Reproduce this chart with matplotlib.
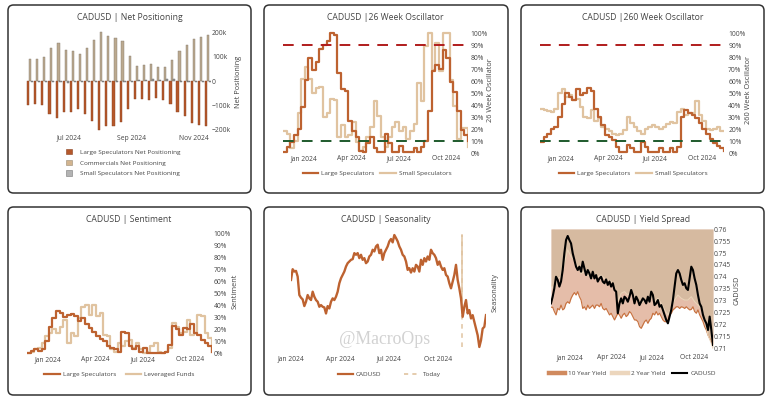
import numpy as np
import pandas as pd
import matplotlib
matplotlib.use('Agg')
import matplotlib.pyplot as plt
import matplotlib.dates as mdates
from matplotlib.patches import FancyBboxPatch, Patch
from matplotlib.lines import Line2D
from matplotlib.ticker import FuncFormatter, FixedLocator

plt.rcParams['font.family'] = ['Open Sans', 'DejaVu Sans']

# ---------------- DATA ----------------
# Net positioning (thousands of contracts), weekly
net_start = '2024-05-24'
large_spec_net = [-98, -94, -99, -137, -155, -127, -127, -116, -138, -166, -203, -187, -186,
                  -171, -116, -74, -76, -80, -71, -77, -96, -127, -147, -175, -183, -187]
commercials_net = [91, 91, 99, 138, 159, 127, 126, 113, 137, 169, 204, 186, 180,
                   168, 106, 62, 67, 69, 59, 60, 87, 123, 150, 175, 182, 190]
small_spec_net = [-4, -3, -3, -5, -6, -8, -4, -3, -5, -5, -4, -3, -4,
                  -5, -4, 5, 6, 7, 6, 8, 9, -3, -4, -5, -4, -5]

# Oscillators (%), weekly
osc_start = '2023-11-21'
osc26_large = [1, 5, 9, 15, 20, 38, 61, 79, 69, 76, 87, 90, 93, 100, 98, 67, 53, 52, 27, 18,
               13, 2, 1, 8, 13, 4, 1, 1, 16, 8, 1, 1, 6, 1, 1, 1, 4, 1, 5, 10,
               35, 68, 73, 70, 86, 79, 59, 51, 35, 19, 15, 10]
osc26_small = [18, 16, 4, 10, 33, 62, 72, 62, 50, 54, 55, 30, 33, 45, 44, 13, 23, 13, 15, 26,
               9, 2, 5, 13, 22, 43, 31, 13, 5, 13, 22, 26, 18, 22, 12, 18, 24, 58, 43, 89,
               100, 69, 92, 68, 100, 100, 61, 39, 12, 21, 21, 5]
osc260_large = [9, 13, 16, 20, 22, 30, 41, 50, 47, 44, 53, 48, 50, 54, 52, 37, 30, 23, 15, 13,
                11, 5, 1, 1, 7, 4, 1, 1, 9, 5, 1, 1, 1, 4, 1, 1, 4, 1, 5, 30,
                36, 33, 32, 29, 25, 20, 16, 12, 8, 6, 4, 2]
osc260_small = [37, 36, 35, 34, 37, 50, 53, 47, 48, 44, 45, 38, 30, 29, 36, 27, 29, 22, 20, 18,
                16, 15, 16, 19, 30, 25, 22, 18, 16, 20, 22, 23, 22, 20, 22, 24, 26, 25, 34, 37,
                32, 33, 33, 43, 32, 27, 20, 19, 20, 22, 18, 18]
sent_large = [0, 2, 3, 2, 3, 10, 22, 29, 35, 34, 30, 32, 33, 31, 27, 29, 24, 21, 18, 14,
              12, 10, 6, 4, 3, 1, 18, 17, 6, 3, 6, 1, 4, 0, 0, 0, 0, 0, 1, 7,
              23, 20, 15, 21, 20, 24, 17, 15, 11, 8, 6, 1]
sent_levfunds = [0, 1, 3, 4, 8, 14, 17, 20, 17, 22, 28, 8, 17, 14, 29, 39, 40, 32, 40, 31,
                 34, 15, 14, 3, 1, 8, 6, 10, 11, 4, 8, 3, 0, 1, 6, 8, 1, 0, 1, 4,
                 25, 22, 17, 18, 28, 15, 17, 32, 31, 17, 13, 1]
pct_ticks = [0, 10, 20, 30, 40, 50, 60, 70, 80, 90, 100]

# Seasonality (average path through the year), Jan 1 -> Dec 29
season_values = [0.60, 0.92, 0.85, 0.87, 0.70, 0.15, 0.07, 0.02, -0.18, -0.05,
                 0.15, 0.05, 0.00, 0.25, 0.10, 0.00, -0.05, -0.20, -0.15, -0.20,
                 -0.22, -0.40, -0.18, -0.25, -0.05, 0.05, 0.00, 0.10, 0.25, 0.50,
                 0.65, 0.75, 0.85, 1.00, 1.10, 1.15, 1.20, 1.22, 1.40, 1.35,
                 1.40, 1.25, 1.35, 1.20, 1.25, 1.10, 1.15, 1.30, 1.35, 1.50,
                 1.45, 1.60, 1.65, 1.40, 1.50, 1.20, 1.40, 1.50, 1.60, 1.75,
                 1.82, 1.72, 1.94, 1.85, 1.75, 1.60, 1.50, 1.35, 1.30, 1.15,
                 0.90, 0.95, 0.82, 0.95, 0.85, 1.05, 1.00, 0.85, 1.20, 1.05,
                 1.25, 1.15, 1.30, 1.20, 1.50, 1.40, 1.35, 1.25, 1.05, 1.15,
                 1.00, 0.90, 0.95, 0.75, 0.70, 0.50, 0.35, 0.55, 0.75, 1.05,
                 0.60, 0.35, 0.05, -0.50, -0.20, 0.00, -0.40, -0.30, -0.55, -0.45,
                 -0.65, -0.85, -1.05, -1.40, -1.20, -0.85, -0.80, -0.45]
today = '2024-11-15'

# Yield spread panel (expressed on the CADUSD scale)
cadusd = [0.7290, 0.7318, 0.7353, 0.7401, 0.7388, 0.7360, 0.7381, 0.7429, 0.7499, 0.7554,
          0.7571, 0.7554, 0.7540, 0.7499, 0.7471, 0.7443, 0.7429, 0.7443, 0.7422, 0.7464,
          0.7436, 0.7408, 0.7429, 0.7415, 0.7394, 0.7422, 0.7394, 0.7408, 0.7381, 0.7394,
          0.7401, 0.7381, 0.7374, 0.7390, 0.7367, 0.7381, 0.7360, 0.7374, 0.7346, 0.7339,
          0.7249, 0.7290, 0.7311, 0.7290, 0.7318, 0.7311, 0.7297, 0.7318, 0.7346, 0.7325,
          0.7290, 0.7318, 0.7304, 0.7283, 0.7297, 0.7311, 0.7304, 0.7290, 0.7318, 0.7297,
          0.7339, 0.7325, 0.7283, 0.7290, 0.7304, 0.7276, 0.7283, 0.7263, 0.7242, 0.7221,
          0.7207, 0.7235, 0.7263, 0.7304, 0.7360, 0.7415, 0.7429, 0.7415, 0.7388, 0.7367,
          0.7374, 0.7353, 0.7346, 0.7394, 0.7443, 0.7429, 0.7394, 0.7367, 0.7325, 0.7290,
          0.7276, 0.7242, 0.7221, 0.7207, 0.7179, 0.7235, 0.7179, 0.7117]
ten_year = [0.7274, 0.7274, 0.7256, 0.7242, 0.7269, 0.7263, 0.7283, 0.7263, 0.7269, 0.7290,
            0.7297, 0.7290, 0.7311, 0.7325, 0.7335, 0.7325, 0.7339, 0.7318, 0.7304, 0.7269,
            0.7276, 0.7263, 0.7283, 0.7269, 0.7276, 0.7283, 0.7269, 0.7283, 0.7283, 0.7276,
            0.7290, 0.7269, 0.7263, 0.7269, 0.7256, 0.7242, 0.7249, 0.7235, 0.7221, 0.7235,
            0.7249, 0.7242, 0.7228, 0.7242, 0.7249, 0.7235, 0.7242, 0.7256, 0.7249, 0.7235,
            0.7221, 0.7221, 0.7214, 0.7193, 0.7186, 0.7200, 0.7214, 0.7221, 0.7207, 0.7221,
            0.7228, 0.7249, 0.7242, 0.7256, 0.7242, 0.7249, 0.7235, 0.7221, 0.7214, 0.7214,
            0.7221, 0.7242, 0.7249, 0.7263, 0.7269, 0.7276, 0.7276, 0.7269, 0.7276, 0.7274,
            0.7269, 0.7276, 0.7269, 0.7263, 0.7265, 0.7276, 0.7256, 0.7249, 0.7263, 0.7242,
            0.7228, 0.7214, 0.7193, 0.7179, 0.7158, 0.7144, 0.7131, 0.7117]
two_year = [0.7367, 0.7346, 0.7394, 0.7401, 0.7457, 0.7513, 0.7485, 0.7471, 0.7443, 0.7415,
            0.7422, 0.7408, 0.7401, 0.7394, 0.7401, 0.7408, 0.7394, 0.7388, 0.7381, 0.7360,
            0.7297, 0.7332, 0.7339, 0.7325, 0.7339, 0.7318, 0.7297, 0.7290, 0.7304, 0.7297,
            0.7318, 0.7297, 0.7311, 0.7290, 0.7263, 0.7242, 0.7269, 0.7304, 0.7325, 0.7311,
            0.7304, 0.7304, 0.7318, 0.7297, 0.7283, 0.7269, 0.7221, 0.7158, 0.7124, 0.7103]
yield_ticks = [0.71, 0.715, 0.72, 0.725, 0.73, 0.735, 0.74, 0.745, 0.75, 0.755, 0.76]

# ---------------- STYLE ----------------
BROWN = '#bd6230'
TAN = '#e0c3a0'
TXT = '#444444'
TICK_FS = 4.9
TITLE_FS = 6.2
LEG_FS = 4.6
AXT_FS = 5.3

W, H = 767, 400
fig = plt.figure(figsize=(W / 100, H / 100), dpi=100)
fig.patch.set_facecolor('white')


def ax_px(x0, x1, y0, y1):
    return fig.add_axes([x0 / W, 1 - y1 / H, (x1 - x0) / W, (y1 - y0) / H])


def box(x0, y0, x1, y1):
    p = FancyBboxPatch((x0 / 100, (H - y1) / 100), (x1 - x0) / 100, (y1 - y0) / 100,
                       boxstyle='round,pad=0,rounding_size=0.055',
                       transform=fig.dpi_scale_trans, fill=False, ec='#333333', lw=1.1)
    fig.add_artist(p)


def ftext(x, y, s, **kw):
    kw.setdefault('color', TXT)
    fig.text(x / W, 1 - y / H, s, ha='center', va='center', **kw)


def base(ax, xpad, ypad):
    for sp in ax.spines.values():
        sp.set_visible(False)
    ax.yaxis.tick_right()
    ax.tick_params(axis='both', length=0, labelsize=TICK_FS, labelcolor=TXT)
    ax.tick_params(axis='x', pad=xpad)
    ax.tick_params(axis='y', pad=ypad)
    ax.set_facecolor('none')


def flegend(handles, labels, cx, cy, ncol, **kw):
    fig.legend(handles, labels, loc='center', bbox_to_anchor=(cx / W, 1 - cy / H),
               ncol=ncol, frameon=False, fontsize=LEG_FS, labelcolor=TXT,
               borderpad=0, borderaxespad=0, **kw)


# panel boxes
for (x0, y0, x1, y1) in [(8, 5, 251, 193), (264, 5, 508, 193), (521, 5, 764, 193),
                         (8, 207, 251, 395), (264, 207, 508, 395), (521, 207, 764, 395)]:
    box(x0, y0, x1, y1)

# ---------------- Panel 1: Net positioning ----------------
net_dates = pd.date_range(net_start, periods=len(large_spec_net), freq='7D')
ax1 = ax_px(26, 211, 31, 131)
base(ax1, 2.6, 0.8)
off = pd.Timedelta(days=1.9)
bw = 2.1
ax1.bar(net_dates - off, np.array(large_spec_net) * 1000, width=bw, color='#b5582b',
        edgecolor='#8a4120', lw=0.3)
ax1.bar(net_dates, np.array(commercials_net) * 1000, width=bw, color='#bba98f',
        edgecolor='#857b6e', lw=0.3)
ax1.bar(net_dates + off, np.array(small_spec_net) * 1000, width=bw, color='#a0a0a0',
        edgecolor='#5f5f5f', lw=0.3)
ax1.set_ylim(-208000, 208000)
ax1.set_xlim(pd.Timestamp('2024-05-20'), pd.Timestamp('2024-11-18'))
ax1.yaxis.set_major_locator(FixedLocator([-200000, -100000, 0, 100000, 200000]))
ax1.yaxis.set_major_formatter(FuncFormatter(
    lambda v, p: '0' if v == 0 else ('\u2212' if v < 0 else '') + '%dk' % abs(v / 1000)))
ax1.xaxis.set_major_locator(FixedLocator(mdates.date2num(
    [pd.Timestamp('2024-07-01'), pd.Timestamp('2024-09-01'), pd.Timestamp('2024-11-01')])))
ax1.xaxis.set_major_formatter(mdates.DateFormatter('%b %Y'))
ftext(130, 18, 'CADUSD | Net Positioning', fontsize=TITLE_FS)
ftext(238, 82, 'Net Positioning', fontsize=AXT_FS, rotation=90)
fig.legend([Patch(fc='#b5582b', ec='#8a4120', lw=0.4), Patch(fc='#d2b48f', ec='#9a8a74', lw=0.4),
            Patch(fc='#b3b3b3', ec='#7a7a7a', lw=0.4)],
           ['Large Speculators Net Positioning', 'Commercials Net Positioning',
            'Small Speculators Net Positioning'],
           loc='upper left', bbox_to_anchor=(66 / W, 1 - 149 / H), frameon=False,
           fontsize=LEG_FS, labelcolor=TXT, borderpad=0, borderaxespad=0,
           handlelength=0.9, handleheight=0.9, handletextpad=1.3, labelspacing=0.75)

# ---------------- Oscillator helper ----------------
osc_dates = pd.date_range(osc_start, periods=len(osc26_large), freq='7D')
quarter_ticks = mdates.date2num([pd.Timestamp('2024-01-01'), pd.Timestamp('2024-04-01'),
                                 pd.Timestamp('2024-07-01'), pd.Timestamp('2024-10-01')])


def osc_axes(ax, s_large, s_small, hlines=True, ypad=2.0):
    base(ax, 0.3, ypad)
    ax.step(osc_dates, s_small, where='post', color=TAN, lw=1.6, zorder=2)
    ax.step(osc_dates, s_large, where='post', color=BROWN, lw=1.6, zorder=3)
    if hlines:
        ax.axhline(90, color='#b01c1c', lw=1.4, dashes=(5.5, 4.2), zorder=4)
        ax.axhline(10, color='#1e5a2c', lw=1.4, dashes=(5.5, 4.2), zorder=4)
    ax.set_ylim(-1.5, 101.5)
    ax.set_xlim(osc_dates[0], osc_dates[-1])
    ax.yaxis.set_major_locator(FixedLocator(pct_ticks))
    ax.yaxis.set_major_formatter(FuncFormatter(lambda v, p: '%d%%' % v))
    ax.xaxis.set_major_locator(FixedLocator(quarter_ticks))
    ax.xaxis.set_major_formatter(mdates.DateFormatter('%b %Y'))


# ---------------- Panel 2: 26 week ----------------
ax2 = ax_px(283, 468, 31.2, 154.8)
osc_axes(ax2, osc26_large, osc26_small, ypad=1.8)
ftext(385, 18, 'CADUSD |26 Week Oscillator', fontsize=TITLE_FS)
ftext(491, 90, '26 Week Oscillator', fontsize=AXT_FS, rotation=90)
flegend([Line2D([], [], color=BROWN, lw=1.6), Line2D([], [], color=TAN, lw=1.6)],
        ['Large Speculators', 'Small Speculators'], 377, 173, 2,
        handlelength=2.4, handletextpad=0.5, columnspacing=0.9)

# ---------------- Panel 3: 260 week ----------------
ax3 = ax_px(540, 724, 31.2, 154.8)
osc_axes(ax3, osc260_large, osc260_small, ypad=3.0)
ftext(643, 18, 'CADUSD |260 Week Oscillator', fontsize=TITLE_FS)
ftext(748, 90, '260 Week Oscillator', fontsize=AXT_FS, rotation=90)
flegend([Line2D([], [], color=BROWN, lw=1.6), Line2D([], [], color=TAN, lw=1.6)],
        ['Large Speculators', 'Small Speculators'], 633, 173, 2,
        handlelength=2.4, handletextpad=0.5, columnspacing=0.9)

# ---------------- Panel 4: Sentiment ----------------
ax4 = ax_px(27, 212, 232.2, 354.8)
osc_axes(ax4, sent_large, sent_levfunds, hlines=False, ypad=1.0)
ax4.tick_params(axis='x', pad=0.9)
ftext(129, 219, 'CADUSD | Sentiment', fontsize=TITLE_FS)
ftext(235, 291, 'Sentiment', fontsize=AXT_FS, rotation=90)
flegend([Line2D([], [], color=BROWN, lw=1.6), Line2D([], [], color=TAN, lw=1.6)],
        ['Large Speculators', 'Leveraged Funds'], 119.5, 374, 2,
        handlelength=2.4, handletextpad=0.5, columnspacing=1.5)

# ---------------- Panel 5: Seasonality ----------------
season_days = np.linspace(0, 363, len(season_values))
season_dates = pd.Timestamp('2024-01-01') + pd.to_timedelta(season_days, unit='D')
ax5 = ax_px(291, 486, 233, 350)
base(ax5, 4.0, 1.0)
ax5.set_yticks([])
ax5.plot(season_dates, season_values, color=BROWN, lw=1.7, zorder=3)
tday = pd.Timestamp(today)
tnum = mdates.date2num(tday)
vmin, vmax = min(season_values), max(season_values)
tval = float(np.interp(tnum, mdates.date2num(season_dates), season_values))
ax5.plot([tday, tday], [vmin, vmax], color=TAN, lw=1.1, dashes=(3, 3), zorder=2)
ax5.plot([tday, tday], [tval, vmax], color=TAN, lw=1.1, zorder=2)
ax5.set_ylim(-1.49, 2.0)
ax5.set_xlim(season_dates[0], season_dates[-1])
ax5.xaxis.set_major_locator(FixedLocator(quarter_ticks))
ax5.xaxis.set_major_formatter(mdates.DateFormatter('%b %Y'))
ftext(386, 219, 'CADUSD | Seasonality', fontsize=TITLE_FS)
ftext(495, 292, 'Seasonality', fontsize=AXT_FS, rotation=90)
ftext(385, 340, '@MacroOps', fontsize=12.8, color='#d2d2d2',
      family=['Liberation Serif', 'DejaVu Serif'])
flegend([Line2D([], [], color=BROWN, lw=1.6), Line2D([], [], color=TAN, lw=1.2, dashes=(2.5, 2.5))],
        ['CADUSD', 'Today'], 389, 374, 2,
        handlelength=2.4, handletextpad=0.5, columnspacing=3.5)

# ---------------- Panel 6: Yield spread ----------------
ydates = pd.date_range('2023-11-20', '2024-11-12', periods=len(cadusd))
ydates2 = ydates[::2].append(ydates[-1:])
ax6 = ax_px(551, 713, 229, 351.4)
base(ax6, 2.0, 0.8)
TOP = 0.76
ax6.fill_between(ydates, ten_year, TOP, color='#c66d42', alpha=0.45, lw=0, zorder=1)
ax6.fill_between(ydates2, two_year, TOP, color='#c8b898', alpha=0.5, lw=0, zorder=2)
ax6.plot(ydates, ten_year, color='#c7703d', lw=0.8, zorder=3)
ax6.plot(ydates2, two_year, color='#e9d3b8', lw=0.8, zorder=3)
ax6.plot(ydates, cadusd, color='black', lw=1.5, zorder=5)
ax6.set_ylim(0.709, TOP)
ax6.set_xlim(ydates[0], ydates[-1])
ax6.yaxis.set_major_locator(FixedLocator(yield_ticks))
ax6.yaxis.set_major_formatter(FuncFormatter(lambda v, p: ('%.3f' % v).rstrip('0')))
ax6.xaxis.set_major_locator(FixedLocator(quarter_ticks))
ax6.xaxis.set_major_formatter(mdates.DateFormatter('%b %Y'))
ftext(643, 219, 'CADUSD | Yield Spread', fontsize=TITLE_FS)
ftext(737, 290, 'CADUSD', fontsize=AXT_FS, rotation=90)
flegend([Line2D([], [], color='#d08a5e', lw=3.2), Line2D([], [], color='#ecd6bd', lw=3.2),
         Line2D([], [], color='black', lw=1.5)],
        ['10 Year Yield', '2 Year Yield', 'CADUSD'], 632.5, 373, 3,
        handlelength=2.4, handletextpad=0.5, columnspacing=1.0)

fig.savefig('out.png', dpi=100, facecolor='white')
